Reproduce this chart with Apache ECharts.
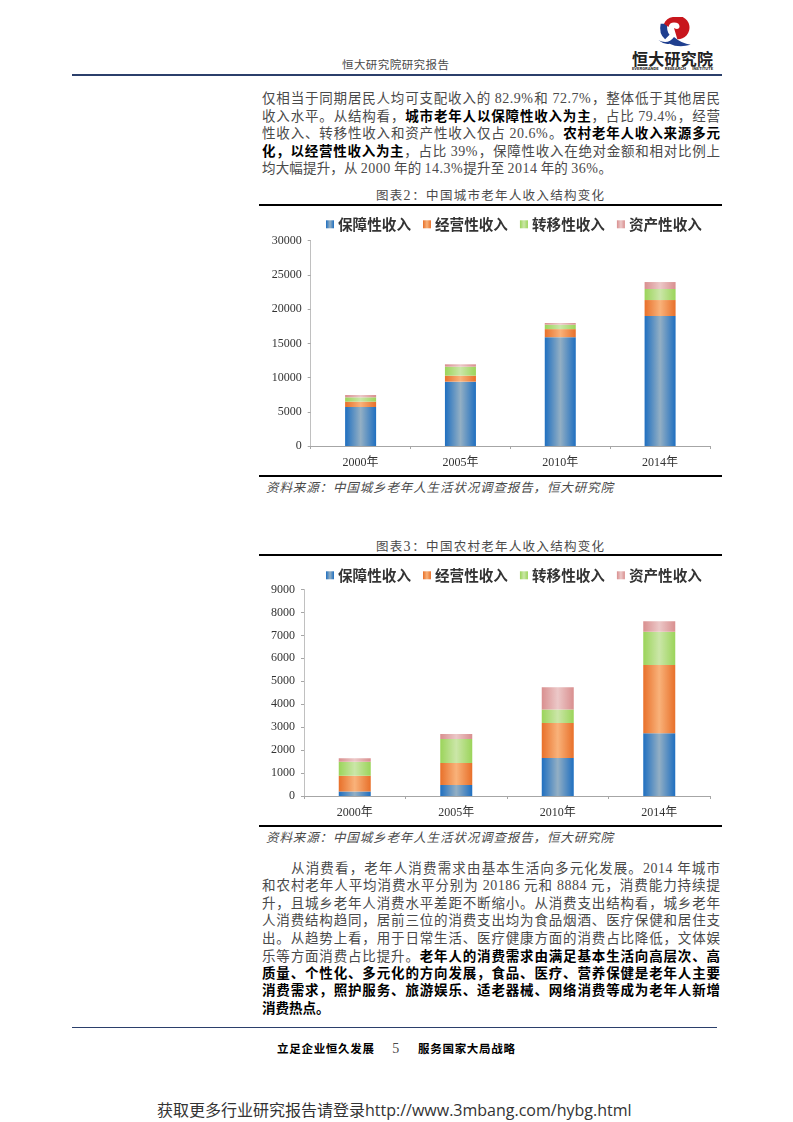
<!DOCTYPE html>
<html>
<head>
<meta charset="utf-8">
<title>恒大研究院研究报告</title>
<script src="https://cdn.jsdelivr.net/npm/echarts@6/dist/echarts.min.js"></script>
<style>
  html, body { margin: 0; padding: 0; background: #fff; }
  #page { position: relative; width: 793px; height: 1122px; overflow: hidden;
    font-family: "Noto Sans CJK SC", sans-serif; color: #4a4a4a; }
  .line { position: absolute; white-space: nowrap; text-align: justify; text-align-last: justify;
    text-justify: inter-character; font-size: 13.5px; line-height: 18px; height: 18px; }
  .line b { color: #000; }
  .num { font-family: "Liberation Serif", serif; font-size: 14px; letter-spacing: 0.5px; }
  .rule { position: absolute; background: #000; }
  .chart { position: absolute; left: 259px; width: 463px; height: 265px; }
</style>
</head>
<body>
<div id="page">
  <div class="rule" style="left:72px;top:74px;width:650px;height:1.5px;background:#2b3f6b"></div>
  <svg style="position:absolute;left:654px;top:17px" width="40" height="30" viewBox="0 0 36 27">
    <path d="M4 21 Q13 25 18 18 Q25 24 33 25 Q22 28 14 24 Q9 25 4 21Z" fill="#1f3f8f"/>
    <path d="M6 6 Q4 15 10 20 L14 16 Q11 12 12 6Z" fill="#1f3f8f"/>
    <path d="M17 0 A10.5 10.5 0 1 1 21 20 L18 10 Q22 12 23 9 Q23 5 18 5 Q14 5 13 9 L9 6 Q11 1 17 0Z" fill="#c8161d"/>
  </svg>
  <div id="lines"></div>
  <div class="rule" style="left:259px;top:204px;width:463px;height:2px"></div>
  <div id="chartCity" class="chart" style="top:208px"></div>
  <div class="rule" style="left:259px;top:475px;width:463px;height:2px"></div>
  <div class="rule" style="left:259px;top:554px;width:463px;height:2px"></div>
  <div id="chartRural" class="chart" style="top:558px"></div>
  <div class="rule" style="left:259px;top:825px;width:463px;height:2px"></div>
  <div class="rule" style="left:72px;top:1026.5px;width:645px;height:1.5px;background:#2b3f6b"></div>
</div>
<script>
var years = ['2000年', '2005年', '2010年', '2014年'];
var seriesNames = ['保障性收入', '经营性收入', '转移性收入', '资产性收入'];

// 图表2 城市
var cityBaozhang = [5700, 9400, 15900, 19000];
var cityJingying = [780, 880, 1180, 2330];
var cityZhuanyi = [630, 1310, 650, 1610];
var cityZichan = [340, 350, 240, 1020];

// 图表3 农村
var ruralBaozhang = [200, 480, 1655, 2730];
var ruralJingying = [685, 957, 1525, 2975];
var ruralZhuanyi = [610, 1045, 595, 1450];
var ruralZichan = [145, 218, 970, 465];

// 柱子横向渐变 边 -> 中 -> 边
var barColors = [
  ['#1f6fc0', '#93afc4'],
  ['#e8702a', '#f9b27a'],
  ['#9bd45a', '#cbe6a8'],
  ['#d98f8f', '#ecc8c8']
];

function barGradient(pair) {
  return new echarts.graphic.LinearGradient(0, 0, 1, 0, [
    { offset: 0, color: pair[0] },
    { offset: 0.5, color: pair[1] },
    { offset: 1, color: pair[0] }
  ]);
}

function renderChart(id, groups, yMax, yInterval, gridLeft, gridTop, barWidth, legendTop) {
  var myChart = echarts.init(document.getElementById(id));
  var font = '"Liberation Serif", "Noto Sans CJK SC", serif';
  myChart.setOption({
    animation: false,
    legend: {
      left: 62,
      top: legendTop,
      icon: 'rect',
      itemWidth: 8,
      itemHeight: 8,
      itemGap: 12,
      data: seriesNames,
      textStyle: { fontSize: 14.6, fontWeight: 'bold', color: '#333',
        fontFamily: '"Noto Sans CJK SC", sans-serif', padding: [0, 0, 0, -1] }
    },
    grid: { left: gridLeft, right: 12, top: gridTop, bottom: 27 },
    xAxis: {
      type: 'category',
      data: years,
      axisLine: { lineStyle: { color: '#a6a6a6', width: 1 } },
      axisTick: { show: true, length: 3, alignWithLabel: false, lineStyle: { color: '#a6a6a6' } },
      axisLabel: { color: '#333', fontSize: 12, fontFamily: font, margin: 11 }
    },
    yAxis: {
      type: 'value',
      min: 0,
      max: yMax,
      interval: yInterval,
      splitLine: { show: false },
      axisLine: { show: true, lineStyle: { color: '#c0c0c0', width: 1 } },
      axisTick: { show: true, length: 3, lineStyle: { color: '#a6a6a6' } },
      axisLabel: { color: '#333', fontSize: 12, fontFamily: font, margin: 9,
        formatter: function (v) { return String(v); } }
    },
    series: groups.map(function (values, i) {
      return {
        name: seriesNames[i],
        type: 'bar',
        stack: 'income',
        barWidth: barWidth,
        data: values,
        itemStyle: { color: barGradient(barColors[i]) }
      };
    })
  });
  return myChart;
}

renderChart('chartCity', [cityBaozhang, cityJingying, cityZhuanyi, cityZichan], 30000, 5000, 51.7, 32.7, 31, 4);
renderChart('chartRural', [ruralBaozhang, ruralJingying, ruralZhuanyi, ruralZichan], 9000, 1000, 45, 31.5, 32, 5);

// 页面文字，一行一条: [左, 右, 中心y, html, 其它样式]
var n = function (s) { return '<span class="num">' + s + '</span>'; };
var textLines = [
  [342, 449, 63.5, '恒大研究院研究报告', 'font-size:11.5px'],
  [632, 713, 58, '<b style="color:#222">恒大研究院</b>', 'font-size:16px'],
  [632, 713, 69, '<b style="color:#222">EVERGRANDE RESEARCH INSTITUTE</b>', 'font-size:4.2px;font-family:Roboto,sans-serif'],
  [262, 720, 97, '仅相当于同期居民人均可支配收入的 ' + n('82.9%') + '和 ' + n('72.7%') + '，整体低于其他居民'],
  [262, 720, 115, '收入水平。从结构看，<b>城市老年人以保障性收入为主</b>，占比 ' + n('79.4%') + '，经营'],
  [262, 720, 132.3, '性收入、转移性收入和资产性收入仅占 ' + n('20.6%') + '。<b>农村老年人收入来源多元</b>'],
  [262, 720, 149.7, '<b>化，以经营性收入为主</b>，占比 ' + n('39%') + '，保障性收入在绝对金额和相对比例上'],
  [262, 612, 166.7, '均大幅提升，从 ' + n('2000') + ' 年的 ' + n('14.3%') + '提升至 ' + n('2014') + ' 年的 ' + n('36%') + '。'],
  [376, 604, 195, '图表' + n('2') + '：中国城市老年人收入结构变化', 'font-size:12.5px'],
  [266, 613, 487, '资料来源：中国城乡老年人生活状况调查报告，恒大研究院', 'font-size:12.5px;font-style:italic'],
  [376, 604, 546, '图表' + n('3') + '：中国农村老年人收入结构变化', 'font-size:12.5px'],
  [266, 613, 837, '资料来源：中国城乡老年人生活状况调查报告，恒大研究院', 'font-size:12.5px;font-style:italic'],
  [291, 720, 866.7, '从消费看，老年人消费需求由基本生活向多元化发展。' + n('2014') + ' 年城市'],
  [262, 720, 884.3, '和农村老年人平均消费水平分别为 ' + n('20186') + ' 元和 ' + n('8884') + ' 元，消费能力持续提'],
  [262, 720, 901.7, '升，且城乡老年人消费水平差距不断缩小。从消费支出结构看，城乡老年'],
  [262, 720, 919.3, '人消费结构趋同，居前三位的消费支出均为食品烟酒、医疗保健和居住支'],
  [262, 720, 937, '出。从趋势上看，用于日常生活、医疗健康方面的消费占比降低，文体娱'],
  [262, 720, 954.7, '乐等方面消费占比提升。<b>老年人的消费需求由满足基本生活向高层次、高</b>'],
  [262, 720, 972, '<b>质量、个性化、多元化的方向发展，食品、医疗、营养保健是老年人主要</b>'],
  [262, 720, 989.3, '<b>消费需求，照护服务、旅游娱乐、适老器械、网络消费等成为老年人新增</b>'],
  [262, 329, 1006.7, '<b>消费热点。</b>'],
  [277, 374, 1047.7, '<b>立足企业恒久发展</b>', 'font-size:11.5px'],
  [392, 400, 1047.7, n('5'), 'font-size:12px;text-align:center;text-align-last:center'],
  [418, 515, 1047.7, '<b>服务国家大局战略</b>', 'font-size:11.5px'],
  [157, 640, 1109, '获取更多行业研究报告请登录<span style="font-family:\'Open Sans\',sans-serif">http://www.3mbang.com/hybg.html</span>', 'font-size:16px;text-align:left;text-align-last:left;color:#333']
];

var box = document.getElementById('lines');
textLines.forEach(function (l) {
  var d = document.createElement('div');
  d.className = 'line';
  d.style.cssText = 'left:' + l[0] + 'px;width:' + (l[1] - l[0]) + 'px;top:' + (l[2] - 9) + 'px;' + (l[4] || '');
  d.innerHTML = l[3];
  box.appendChild(d);
});
</script>
</body>
</html>
